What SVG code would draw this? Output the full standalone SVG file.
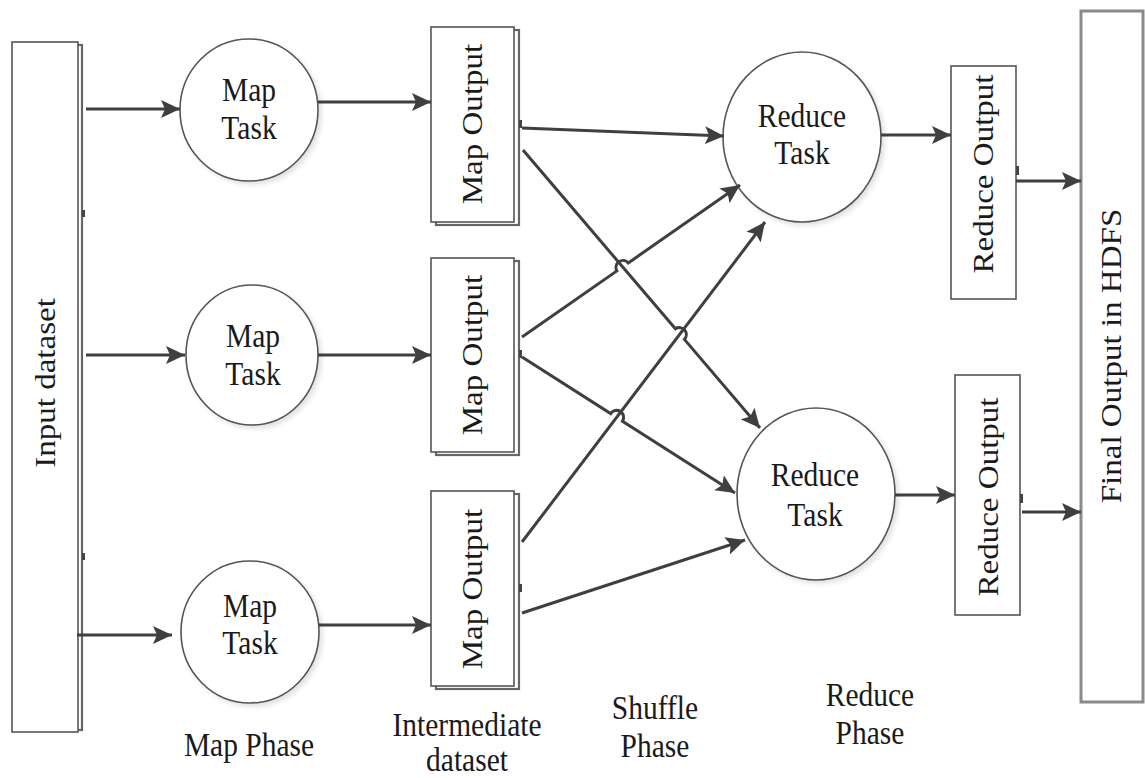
<svg xmlns="http://www.w3.org/2000/svg" width="1145" height="778" viewBox="0 0 1145 778">
  <style>
    .box { fill: #ffffff; stroke: #555555; stroke-width: 1.6; }
    .back { fill: #ffffff; stroke: #666666; stroke-width: 2.2; }
    .node { fill: #ffffff; stroke: #555555; stroke-width: 1.6; }
    .tick { fill: #444444; }
    .lbl { font-family: "Liberation Serif", "Times New Roman", serif; font-size: 29.5px; fill: #1a1a1a; text-anchor: middle; }
    .rot { dominant-baseline: central; }
    .edge { fill: none; stroke: #3f3f3f; stroke-width: 3; }
    .arrow { marker-end: url(#head); }
  </style>
  <defs>
    <marker id="head" markerUnits="userSpaceOnUse" markerWidth="20" markerHeight="18" refX="19" refY="9" orient="auto">
      <path d="M0,0 L19,9 L0,18 L4,9 z" fill="#3f3f3f"/>
    </marker>
    <filter id="soft" x="-20%" y="-20%" width="140%" height="140%">
      <feGaussianBlur in="SourceAlpha" stdDeviation="2.5"/>
      <feOffset dx="3" dy="3"/>
      <feComponentTransfer><feFuncA type="linear" slope="0.12"/></feComponentTransfer>
      <feMerge><feMergeNode/><feMergeNode in="SourceGraphic"/></feMerge>
    </filter>
  </defs>

  <rect width="1145" height="778" fill="#ffffff"/>

  <!-- Input dataset -->
  <g id="input-dataset">
    <rect class="back" x="16" y="45" width="66" height="685"/>
    <rect class="box" x="12" y="42" width="66" height="690"/>
    <rect class="tick" x="82" y="210" width="3" height="7"/>
    <rect class="tick" x="82" y="553" width="3" height="7"/>
    <text class="lbl rot" transform="translate(45,383) scale(1,1.12) rotate(-90)">Input dataset</text>
  </g>

  <!-- Map tasks -->
  <g id="map-task-1">
    <ellipse class="node" filter="url(#soft)" cx="249" cy="110" rx="69" ry="71"/>
    <text class="lbl" transform="translate(249,101) scale(1,1.12)">Map</text>
    <text class="lbl" transform="translate(249,139) scale(1,1.12)">Task</text>
  </g>
  <g id="map-task-2">
    <ellipse class="node" filter="url(#soft)" cx="252" cy="355" rx="66" ry="70"/>
    <text class="lbl" transform="translate(253,347) scale(1,1.12)">Map</text>
    <text class="lbl" transform="translate(253,385) scale(1,1.12)">Task</text>
  </g>
  <g id="map-task-3">
    <ellipse class="node" filter="url(#soft)" cx="250" cy="632" rx="69" ry="71"/>
    <text class="lbl" transform="translate(250,617) scale(1,1.12)">Map</text>
    <text class="lbl" transform="translate(250,654) scale(1,1.12)">Task</text>
  </g>

  <!-- Map outputs (intermediate dataset) -->
  <g id="map-output-1">
    <rect class="back" x="436" y="30" width="83" height="195"/>
    <rect class="box" x="431" y="27" width="83" height="195"/>
    <rect class="tick" x="519" y="120" width="3" height="8"/>
    <text class="lbl rot" transform="translate(472,124) scale(1,1.12) rotate(-90)">Map Output</text>
  </g>
  <g id="map-output-2">
    <rect class="back" x="436" y="261" width="83" height="194"/>
    <rect class="box" x="431" y="258" width="83" height="194"/>
    <rect class="tick" x="519" y="350" width="3" height="8"/>
    <text class="lbl rot" transform="translate(472,355) scale(1,1.12) rotate(-90)">Map Output</text>
  </g>
  <g id="map-output-3">
    <rect class="back" x="436" y="494" width="83" height="195"/>
    <rect class="box" x="431" y="491" width="83" height="195"/>
    <rect class="tick" x="519" y="584" width="3" height="8"/>
    <text class="lbl rot" transform="translate(472,589) scale(1,1.12) rotate(-90)">Map Output</text>
  </g>

  <!-- Reduce tasks -->
  <g id="reduce-task-1">
    <ellipse class="node" filter="url(#soft)" cx="802" cy="137" rx="79" ry="85"/>
    <text class="lbl" transform="translate(802,127) scale(1,1.12)">Reduce</text>
    <text class="lbl" transform="translate(802,164) scale(1,1.12)">Task</text>
  </g>
  <g id="reduce-task-2">
    <ellipse class="node" filter="url(#soft)" cx="816" cy="494" rx="79" ry="86"/>
    <text class="lbl" transform="translate(815,486) scale(1,1.12)">Reduce</text>
    <text class="lbl" transform="translate(815,526) scale(1,1.12)">Task</text>
  </g>

  <!-- Reduce outputs -->
  <g id="reduce-output-1">
    <rect class="box" x="951" y="66" width="65" height="233"/>
    <rect class="tick" x="1016" y="166" width="3" height="9"/>
    <text class="lbl rot" transform="translate(983,174) scale(1,1.12) rotate(-90)">Reduce Output</text>
  </g>
  <g id="reduce-output-2">
    <rect class="box" x="955" y="375" width="65" height="240"/>
    <rect class="tick" x="1020" y="494" width="3" height="9"/>
    <text class="lbl rot" transform="translate(988,497) scale(1,1.12) rotate(-90)">Reduce Output</text>
  </g>

  <!-- Final output -->
  <g id="final-output">
    <rect x="1081" y="11" width="62" height="691" fill="#ffffff" stroke="#8a8a8a" stroke-width="3"/>
    <text class="lbl rot" transform="translate(1111,356) scale(1,1.12) rotate(-90)">Final Output in HDFS</text>
  </g>

  <!-- Connectors -->
  <g id="connectors">
    <!-- input to map tasks -->
    <path class="edge arrow" d="M86,109 L180,109"/>
    <path class="edge arrow" d="M86,355 L185,355"/>
    <path class="edge arrow" d="M77,635 L172,635"/>
    <!-- map tasks to map outputs -->
    <path class="edge arrow" d="M318,102 L431,102"/>
    <path class="edge arrow" d="M318,355 L431,355"/>
    <path class="edge arrow" d="M319,625 L431,625"/>
    <!-- shuffle -->
    <path class="edge arrow" d="M522,128 L724,136"/>
    <path class="edge arrow" d="M523,150 L675.4,328.8 A7,7 0 0 1 684.4,339.4 L760,428"/>
    <path class="edge arrow" d="M522,337 L616.9,270.9 A7,7 0 0 1 628.3,262.9 L740,185"/>
    <path class="edge arrow" d="M522,357 L610.7,413.6 A7,7 0 0 1 622.5,421.2 L735,493"/>
    <path class="edge arrow" d="M522,542 L765,222"/>
    <path class="edge arrow" d="M522,613 L745,540"/>
    <!-- reduce tasks to reduce outputs -->
    <path class="edge arrow" d="M881,135 L951,135"/>
    <path class="edge arrow" d="M895,495 L955,495"/>
    <!-- reduce outputs to final output -->
    <path class="edge arrow" d="M1016,181 L1081,181"/>
    <path class="edge arrow" d="M1022,512 L1081,512"/>
  </g>

  <!-- Phase captions -->
  <g id="captions">
    <text class="lbl" transform="translate(249,756) scale(1,1.12)">Map Phase</text>
    <text class="lbl" transform="translate(467,736) scale(1,1.12)">Intermediate</text>
    <text class="lbl" transform="translate(467,771) scale(1,1.12)">dataset</text>
    <text class="lbl" transform="translate(655,719) scale(1,1.12)">Shuffle</text>
    <text class="lbl" transform="translate(655,757) scale(1,1.12)">Phase</text>
    <text class="lbl" transform="translate(870,706) scale(1,1.12)">Reduce</text>
    <text class="lbl" transform="translate(870,744) scale(1,1.12)">Phase</text>
  </g>
</svg>
